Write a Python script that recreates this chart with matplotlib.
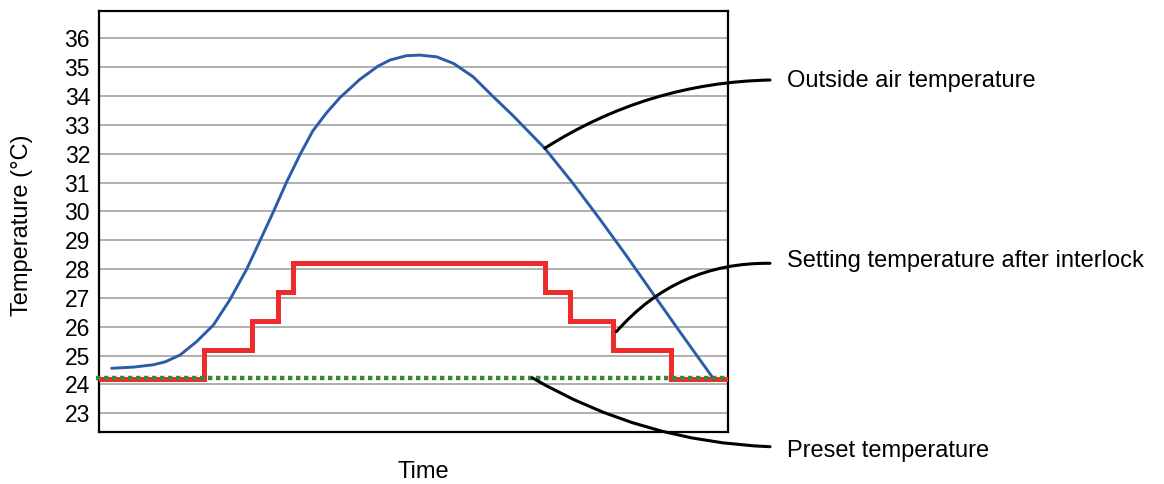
import matplotlib

matplotlib.use("Agg")
import matplotlib.pyplot as plt

W, H = 1164, 484

# --- data (time in arbitrary units 0..100, temperature in deg C) ---
outside_t = [2.0, 5.5, 8.6, 10.5, 12.9, 15.5, 18.2, 20.8, 23.5, 25.6, 27.7,
             29.8, 32.0, 34.0, 36.2, 38.3, 41.5, 44.4, 46.3, 48.9, 51.1, 53.7,
             56.4, 59.5, 62.7, 65.9, 70.9, 75.4, 79.7, 83.9, 88.4, 92.8, 97.5]
outside_temp = [24.56, 24.60, 24.68, 24.78, 25.02, 25.48, 26.06, 26.93, 28.00,
                28.98, 29.97, 31.00, 31.98, 32.79, 33.42, 33.94, 34.58, 35.04,
                35.25, 35.40, 35.42, 35.36, 35.13, 34.67, 33.98, 33.31, 32.19,
                30.97, 29.72, 28.46, 27.06, 25.70, 24.27]

setting_t = [0, 16.7, 24.3, 28.5, 30.8, 71.0, 74.9, 81.7, 91.0, 100]
setting_temp = [24.2, 25.2, 26.2, 27.2, 28.2, 27.2, 26.2, 25.2, 24.2, 24.2]

preset_t = [-0.4, 100]
preset_temp = [24.23, 24.23]

yticks = list(range(23, 37))

labels = ["Outside air temperature",
          "Setting temperature after interlock",
          "Preset temperature"]
# point on the curve each label refers to (data coords)
label_targets = [(70.9, 32.19), (82.3, 25.83), (68.9, 24.23)]

BLUE = "#2b5ca8"
RED = "#ee2c2c"
GREEN = "#3a873a"
GRID = "#9a9a9a"

plt.rcParams.update({
    "font.family": ["Liberation Sans", "DejaVu Sans"],
    "font.size": 17,
})

fig = plt.figure(figsize=(W / 100, H / 100), dpi=100)
ax = fig.add_axes([99 / W, 1 - 431.7 / H, 628.7 / W, 420.7 / H])

ax.step(setting_t, setting_temp, where="post", color=RED, lw=3.6, zorder=3,
        solid_joinstyle="miter")
ax.plot(preset_t, preset_temp, color=GREEN, lw=3.2, ls=(0, (1.0, 0.8)),
        zorder=4, clip_on=False)
ax.plot(outside_t, outside_temp, color=BLUE, lw=2.1, zorder=5,
        solid_joinstyle="round", solid_capstyle="round")

ax.set_xlim(0, 100)
ax.set_ylim(22.36, 36.95)
ax.set_yticks(yticks)
ax.set_xticks([])
ax.tick_params(axis="y", length=0, pad=6.5, labelsize=16.5)
ax.grid(axis="y", color=GRID, lw=1.1, zorder=0)
ax.set_axisbelow(True)
for s in ax.spines.values():
    s.set_linewidth(1.6)
    s.set_color("black")

fig.text(22 / W, 1 - 225 / H, "Temperature (°C)", rotation=90,
         ha="center", va="center", fontsize=17)
fig.text(423 / W, 1 - 472 / H, "Time", ha="center", va="center", fontsize=17)

# annotation leaders: label end (figure px) -> curve point, curvature
leader_ends = [(770, 80), (770, 263.3), (770, 446.7)]
leader_rad = [0.14, 0.23, -0.125]
label_base = [87.3, 267.5, 456.7]

for lab, (tx, ty), (ex, ey), rad, by in zip(labels, label_targets, leader_ends,
                                           leader_rad, label_base):
    ax.annotate("", xy=(tx, ty), xycoords="data",
                xytext=(ex / W, 1 - ey / H), textcoords="figure fraction",
                arrowprops=dict(arrowstyle="-", connectionstyle=f"arc3,rad={rad}",
                                lw=2.2, color="black", shrinkA=0, shrinkB=0),
                annotation_clip=False, zorder=6)
    fig.text(786.7 / W, 1 - by / H, lab, ha="left", va="baseline", fontsize=17)

fig.savefig("out.png", dpi=100, facecolor="white")
